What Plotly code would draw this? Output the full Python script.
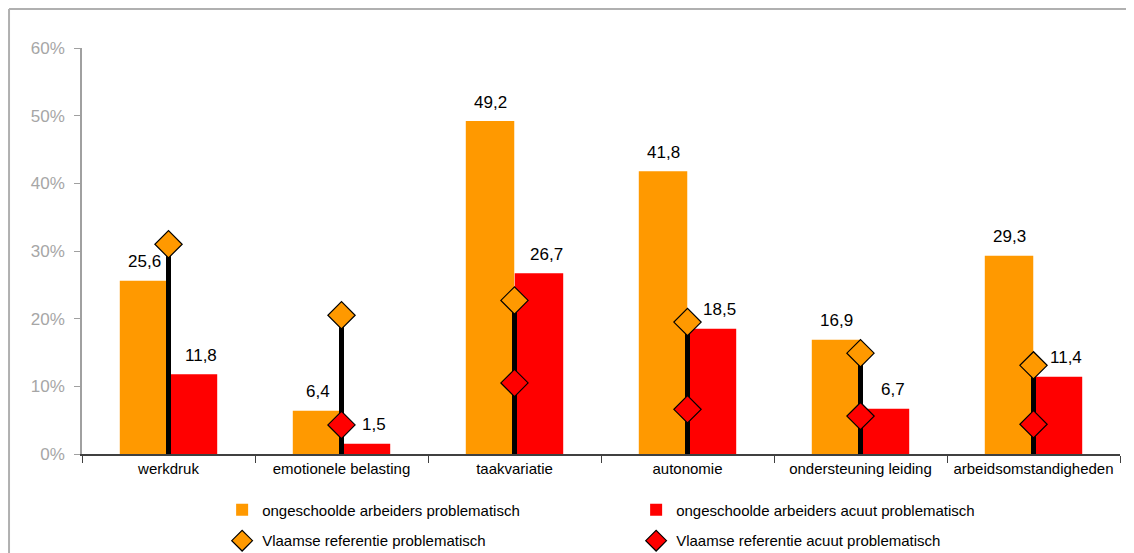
import plotly.graph_objects as go

categories = ["werkdruk", "emotionele belasting", "taakvariatie", "autonomie",
              "ondersteuning leiding", "arbeidsomstandigheden"]
ongeschoold_probl = [25.6, 6.4, 49.2, 41.8, 16.9, 29.3]
ongeschoold_acuut = [11.8, 1.5, 26.7, 18.5, 6.7, 11.4]
vlaams_probl = [31.0, 20.5, 22.7, 19.5, 14.9, 13.1]
vlaams_acuut = [None, 4.3, 10.5, 6.6, 5.6, 4.4]
y_ticks = [0, 10, 20, 30, 40, 50, 60]
y_tick_labels = [f"{v}%" for v in y_ticks]

ORANGE = "#FF9900"
RED = "#FF0000"
FONT = "Liberation Sans, Arial, sans-serif"

fig = go.Figure()

fig.add_trace(go.Bar(
    x=categories, y=ongeschoold_probl, name="ongeschoolde arbeiders problematisch",
    marker=dict(color=ORANGE, line=dict(width=0)), legend="legend",
))
fig.add_trace(go.Bar(
    x=categories, y=ongeschoold_acuut, name="ongeschoolde arbeiders acuut problematisch",
    marker=dict(color=RED, line=dict(width=0)), legend="legend",
))

# high-low lines from axis to reference value
lx, ly = [], []
for c, v in zip(categories, vlaams_probl):
    lx += [c, c, None]
    ly += [0, v, None]
fig.add_trace(go.Scatter(x=lx, y=ly, mode="lines", line=dict(color="black", width=5),
                         showlegend=False, hoverinfo="skip", cliponaxis=False))

fig.add_trace(go.Scatter(
    x=categories, y=vlaams_probl, mode="markers", name="Vlaamse referentie problematisch",
    marker=dict(symbol="diamond", size=21, color=ORANGE, line=dict(color="black", width=1.2)),
    legend="legend2", cliponaxis=False,
))
fig.add_trace(go.Scatter(
    x=categories, y=vlaams_acuut, mode="markers", name="Vlaamse referentie acuut problematisch",
    marker=dict(symbol="diamond", size=21, color=RED, line=dict(color="black", width=1.2)),
    legend="legend2", cliponaxis=False,
))

# value labels above bars
annotations = []
for c, v in zip(categories, ongeschoold_probl):
    annotations.append(dict(x=c, y=v, xref="x", yref="y", text=f"{v:.1f}".replace(".", ","),
                            showarrow=False, xshift=-24, yshift=19, yanchor="middle",
                            font=dict(size=17, color="black", family=FONT)))
for c, v in zip(categories, ongeschoold_acuut):
    annotations.append(dict(x=c, y=v, xref="x", yref="y", text=f"{v:.1f}".replace(".", ","),
                            showarrow=False, xshift=32, yshift=19, yanchor="middle",
                            font=dict(size=17, color="black", family=FONT)))

legend_common = dict(orientation="h", xanchor="left", yanchor="middle",
                     entrywidth=369, entrywidthmode="pixels",
                     font=dict(size=15, color="black", family=FONT),
                     bgcolor="rgba(0,0,0,0)", itemwidth=30, traceorder="normal")

fig.update_layout(
    width=1134, height=553,
    margin=dict(l=74, r=22, t=40, b=107, autoexpand=False),
    paper_bgcolor="white", plot_bgcolor="white",
    separators=", ",
    barmode="group", bargap=0.434, bargroupgap=0.01,
    showlegend=True,
    legend=dict(x=0.135, y=-0.138, **legend_common),
    legend2=dict(x=0.135, y=-0.214, **legend_common),
    font=dict(family=FONT),
    annotations=annotations,
    xaxis=dict(
        type="category", range=[-0.5, 5.5], showgrid=False, automargin=False,
        showline=True, linecolor="#404040", linewidth=1.5, tickangle=0,
        ticks="outside", tickson="boundaries", ticklen=7, tickcolor="#404040",
        tickfont=dict(size=15, color="black", family=FONT),
    ),
    yaxis=dict(
        range=[0, 60], tickvals=y_ticks, ticktext=y_tick_labels, showgrid=False,
        automargin=False,
        showline=True, linecolor="#A0A0A0", linewidth=1.5,
        ticks="outside", ticklen=6, tickcolor="#A0A0A0", ticklabelstandoff=6,
        tickfont=dict(size=17, color="#A6A6A6", family=FONT),
        zeroline=False,
    ),
    shapes=[
        dict(type="line", xref="paper", yref="paper", x0=-0.0703, x1=1.2, y0=1.0961, y1=1.0961,
             line=dict(color="#B0B0B0", width=2)),
        dict(type="line", xref="paper", yref="paper", x0=-0.0703, x1=-0.0703, y0=-0.4, y1=1.0961,
             line=dict(color="#B0B0B0", width=2)),
    ],
)

fig.write_html("out.html")
